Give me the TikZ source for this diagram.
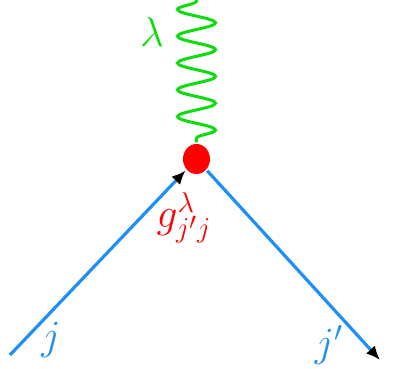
\documentclass[tikz,border=0pt]{standalone}
\usepackage{tikz}
\usetikzlibrary{arrows.meta, positioning, shapes.geometric, decorations.pathmorphing}
\definecolor{lineblue}{RGB}{30,144,245}
\definecolor{photongreen}{RGB}{15,220,15}

\begin{document}
\begin{tikzpicture}[x=0.5pt, y=-0.5pt, line width=1.6pt, font=\huge,
    fermion/.style={draw=lineblue, -{Latex[black, length=7pt, width=6pt]}},
    photon/.style={draw=photongreen, line width=1.5pt, decorate,
        decoration={snake, mirror, segment length=13.4pt, amplitude=9.5pt, pre length=2pt}}]
    \useasboundingbox (0,0) rectangle (398,369);

    \node[ellipse, fill=red, minimum width=13.5pt, minimum height=15pt, inner sep=0pt] (vtx) at (196.5,159) {};
    \coordinate (jstart) at (10,355);
    \coordinate (jend) at (380,360);
    \coordinate (top) at (196.5,-6);

    \draw[fermion] (jstart) -- (vtx);
    \draw[fermion] (vtx) -- (jend);
    \draw[photon] (vtx.north) -- (top);

    \node[text=photongreen] (lam) at (152,32) {$\lambda$};
    \node[text=red] (coup) at (184,218) {$g^{\lambda}_{j'j}$};
    \node[text=lineblue] (jin) at (51,340) {$j$};
    \node[text=lineblue] (jout) at (329,345) {$j'$};
\end{tikzpicture}
\end{document}
